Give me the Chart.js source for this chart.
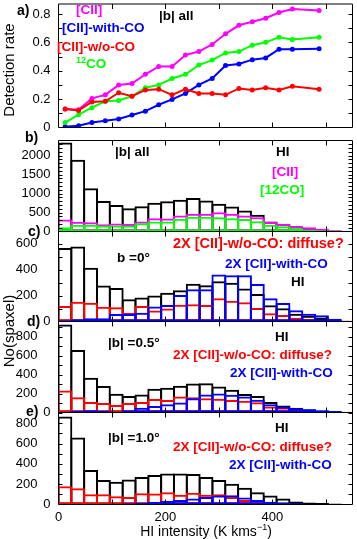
<!DOCTYPE html>
<html>
<head>
<meta charset="utf-8">
<title>Detection rate and HI histograms</title>
<script src="https://cdn.jsdelivr.net/npm/chart.js@4.4.1/dist/chart.umd.min.js"></script>
<style>
  html, body { margin: 0; padding: 0; background: #fff; }
  #fig { position: relative; width: 357px; height: 539px; overflow: hidden; font-family: "Liberation Sans", Arial, Helvetica, sans-serif; color: #000; }
  #fig canvas { position: absolute; left: 0; top: 0; }
  .lbl { position: absolute; white-space: nowrap; font-size: 13.5px; font-weight: bold; line-height: 14px; transform: translateY(-50%); }
  .pl { font-size: 14px; }
  .big { font-size: 14.5px; }
  .ytitle { position: absolute; white-space: nowrap; font-size: 15px; line-height: 15px; transform: translate(-50%, -50%) rotate(-90deg); }
  .xtitle { position: absolute; white-space: nowrap; font-size: 14px; line-height: 14px; transform: translate(-50%, -50%); }
  sup { font-size: 9px; line-height: 0; }
  .mag { color: #ff00ff; } .blu { color: #0000ff; } .red { color: #ff0000; } .grn { color: #00ff00; }
</style>
</head>
<body>
<div id="fig">
  <canvas id="pa" width="357" height="539"></canvas>
  <canvas id="pb" width="357" height="539"></canvas>
  <canvas id="pc" width="357" height="539"></canvas>
  <canvas id="pd" width="357" height="539"></canvas>
  <canvas id="pe" width="357" height="539"></canvas>

  <!-- a) -->
  <div class="lbl pl" style="left:17px;top:10px">a)</div>
  <div class="lbl mag" style="left:76px;top:10px">[CII]</div>
  <div class="lbl" style="left:159px;top:16px">|b| all</div>
  <div class="lbl blu" style="left:62px;top:28px">[CII]-with-CO</div>
  <div class="lbl red" style="left:57px;top:47px">[CII]-w/o-CO</div>
  <div class="lbl grn" style="left:76px;top:64px"><sup>12</sup>CO</div>

  <!-- b) -->
  <div class="lbl pl" style="left:25px;top:137px">b)</div>
  <div class="lbl" style="left:115px;top:152px">|b| all</div>
  <div class="lbl" style="left:276px;top:152px">HI</div>
  <div class="lbl mag" style="left:272px;top:172px">[CII]</div>
  <div class="lbl grn" style="left:260px;top:190px">[12CO]</div>

  <!-- c) -->
  <div class="lbl pl" style="left:28px;top:231px">c)</div>
  <div class="lbl red big" style="left:173px;top:243px">2X [CII]-w/o-CO: diffuse?</div>
  <div class="lbl" style="left:117px;top:258px">b =0°</div>
  <div class="lbl blu" style="left:225px;top:264px">2X [CII]-with-CO</div>
  <div class="lbl" style="left:291px;top:282px">HI</div>

  <!-- d) -->
  <div class="lbl pl" style="left:27px;top:321px">d)</div>
  <div class="lbl" style="left:275px;top:337px">HI</div>
  <div class="lbl" style="left:108px;top:343px">|b| =0.5°</div>
  <div class="lbl red" style="left:173px;top:355px">2X [CII]-w/o-CO: diffuse?</div>
  <div class="lbl blu" style="left:230px;top:373px">2X [CII]-with-CO</div>

  <!-- e) -->
  <div class="lbl pl" style="left:26px;top:411px">e)</div>
  <div class="lbl" style="left:275px;top:428px">HI</div>
  <div class="lbl" style="left:108px;top:438px">|b| =1.0°</div>
  <div class="lbl red" style="left:173px;top:447px">2X [CII]-w/o-CO: diffuse?</div>
  <div class="lbl blu" style="left:229px;top:465px">2X [CII]-with-CO</div>

  <div class="ytitle" style="left:8px;top:70px">Detection rate</div>
  <div class="ytitle" style="left:8px;top:331px">No(spaxel)</div>
  <div class="xtitle" style="left:206px;top:531px">HI intensity (K kms<sup>−1</sup>)</div>
</div>

<script>
// panel a) - detection rate per HI intensity bin
const rateX = [12.5, 37.5, 62.5, 87.5, 112.5, 137.5, 162.5, 187.5, 212.5, 237.5, 262.5, 287.5, 312.5, 337.5, 362.5, 387.5, 412.5, 437.5, 487.5];
const rateCII = [0.13, 0.125, 0.205, 0.23, 0.30, 0.31, 0.375, 0.43, 0.43, 0.51, 0.535, 0.585, 0.66, 0.72, 0.745, 0.77, 0.81, 0.835, 0.825];
const rateWithCO = [0.005, 0.012, 0.035, 0.048, 0.06, 0.088, 0.115, 0.16, 0.198, 0.24, 0.30, 0.345, 0.437, 0.448, 0.478, 0.49, 0.552, 0.552, 0.555];
const rateWoCO = [0.13, 0.12, 0.18, 0.185, 0.245, 0.22, 0.265, 0.27, 0.23, 0.27, 0.24, 0.24, 0.23, 0.275, 0.265, 0.28, 0.265, 0.29, 0.27];
const rateCO = [0.035, 0.09, 0.14, 0.185, 0.19, 0.22, 0.28, 0.30, 0.345, 0.375, 0.44, 0.475, 0.525, 0.535, 0.58, 0.60, 0.635, 0.62, 0.635];

// histogram bin centres (K km/s), 24 wide
const hiBins = [12, 36, 60, 84, 108, 132, 156, 180, 204, 228, 252, 276, 300, 324, 348, 372, 396, 420, 444, 468, 492, 516, 540];

// panel b) |b| all
const bHI = [2350, 1895, 1140, 805, 700, 615, 665, 755, 800, 840, 885, 815, 730, 660, 555, 440, 265, 200, 140, 90, 55, 25, 15];
const bCII = [315, 255, 245, 190, 210, 200, 265, 350, 340, 420, 465, 465, 510, 465, 420, 375, 250, 200, 140, 110, 70, 35, 18];
const bCO = [115, 180, 175, 160, 160, 160, 215, 265, 265, 335, 390, 390, 375, 350, 330, 270, 175, 140, 85, 55, 35, 18, 9];

// panel c) b = 0
const cHI = [567, 580, 415, 278, 258, 172, 186, 200, 222, 242, 292, 280, 310, 300, 255, 212, 125, 103, 60, 45, 30, 12, 6];
const cWoCO = [120, 153, 144, 114, 110, 65, 119, 84, 100, 130, 133, 128, 179, 161, 148, 105, 64, 50, 28, 22, 12, 6, 3];
const cWithCO = [10, 18, 25, 25, 58, 58, 68, 115, 128, 205, 250, 250, 363, 357, 357, 290, 180, 142, 87, 60, 48, 22, 6];

// panel d) |b| = 0.5
const dHI = [930, 662, 367, 279, 198, 175, 190, 250, 262, 284, 307, 308, 274, 240, 195, 175, 110, 74, 50, 35, 21, 12, 5];
const dWoCO = [232, 160, 110, 100, 79, 100, 110, 144, 132, 170, 160, 150, 145, 133, 123, 108, 63, 52, 35, 25, 15, 8, 4];
const dWithCO = [8, 15, 25, 18, 8, 25, 50, 70, 88, 105, 150, 190, 200, 188, 168, 135, 88, 63, 46, 35, 25, 15, 8];

// panel e) |b| = 1.0
const eHI = [865, 658, 340, 240, 225, 245, 270, 290, 305, 305, 300, 270, 240, 205, 165, 120, 88, 60, 30, 20, 15, 10, 5];
const eWoCO = [180, 160, 100, 100, 80, 75, 110, 108, 120, 95, 115, 95, 100, 75, 45, 35, 25, 15, 8, 5, 3, 2, 1];
const eWithCO = [2, 3, 5, 6, 8, 12, 15, 25, 35, 45, 60, 75, 88, 92, 70, 45, 28, 18, 12, 8, 5, 3, 2];

// tick labels
const xTicks = [0, 200, 400];
const yTicksA = [0, 0.2, 0.4, 0.6, 0.8];
const yTicksB = [0, 500, 1000, 1500, 2000];
const yTicksC = [0, 200, 400, 600];
const yTicksDE = [0, 200, 400, 600, 800];

const W = 357, H = 539;
const PLOT_LEFT = 58.5, PLOT_RIGHT = 352.5;
const X_MAX = 550;
const FONT = "'Liberation Sans', Arial, Helvetica, sans-serif";
const MAGENTA = '#ff00ff', BLUE = '#0000ff', RED = '#ff0000', GREEN = '#00ff00', BLACK = '#000000';

// bars slightly wider than a bin so neighbouring outlines share one edge
const binPx = 24 * (PLOT_RIGHT - PLOT_LEFT) / X_MAX;
const BAR_PCT = (binPx + 2) / binPx;

// box around the plot with inward ticks on all four sides (IDL style)
const frameTicks = {
    id: 'frameTicks',
    afterDraw(chart, args, opts) {
        const { ctx, chartArea: a } = chart;
        const x = chart.scales.x, y = chart.scales.y;
        ctx.save();
        ctx.strokeStyle = '#000';
        ctx.lineWidth = 1;
        ctx.beginPath();
        ctx.rect(a.left, a.top, a.right - a.left, a.bottom - a.top);
        for (let v = 100; v < x.max; v += 100) {
            const px = Math.round(x.getPixelForValue(v)) + 0.5;
            ctx.moveTo(px, a.bottom); ctx.lineTo(px, a.bottom - 5);
            ctx.moveTo(px, a.top); ctx.lineTo(px, a.top + 5);
        }
        for (let i = 1; i * opts.minor < y.max; i++) {
            const py = Math.round(y.getPixelForValue(i * opts.minor)) + 0.5;
            ctx.moveTo(a.left, py); ctx.lineTo(a.left + 4, py);
            ctx.moveTo(a.right, py); ctx.lineTo(a.right - 4, py);
        }
        ctx.stroke();
        ctx.restore();
    }
};

function lineSet(values, color) {
    return {
        data: rateX.map((x, i) => ({ x: x, y: values[i] })),
        borderColor: color,
        backgroundColor: color,
        borderWidth: 2,
        pointRadius: 2.5,
        pointBorderWidth: 0,
        pointBackgroundColor: color,
        tension: 0
    };
}

function barSet(values, color) {
    return {
        data: hiBins.map((x, i) => ({ x: x, y: values[i] })),
        backgroundColor: 'rgba(0,0,0,0)',
        borderColor: color,
        borderWidth: 2,
        borderSkipped: false,
        barPercentage: BAR_PCT,
        categoryPercentage: 1
    };
}

const spaced = (v) => v === 0 ? '0' : v + '\u2002\u2002';
const plain = (v) => String(v);
const toTicks = (list) => list.map((v) => ({ value: v }));

function makePanel(id, type, p, datasets) {
    return new Chart(document.getElementById(id), {
        type: type,
        data: { datasets: datasets },
        options: {
            responsive: false,
            animation: false,
            events: [],
            layout: { padding: { top: p.top, bottom: p.showX ? 0 : H - p.bottom, left: 0, right: W - PLOT_RIGHT } },
            plugins: {
                legend: { display: false },
                tooltip: { enabled: false },
                frameTicks: { minor: p.minor }
            },
            scales: {
                x: {
                    type: 'linear', min: 0, max: X_MAX, offset: false, stacked: type === 'bar',
                    grid: { display: false, drawTicks: false }, border: { display: false },
                    ticks: { display: p.showX, padding: 5, maxRotation: 0, autoSkip: false,
                             color: '#000', font: { size: 13, family: FONT } },
                    afterBuildTicks(s) { s.ticks = toTicks(xTicks); },
                    afterFit(s) { s.height = p.showX ? H - p.bottom : 0; s.paddingLeft = 0; s.paddingRight = 0; }
                },
                y: {
                    type: 'linear', min: 0, max: p.max, stacked: false,
                    grid: { display: false, drawTicks: false }, border: { display: false },
                    ticks: { autoSkip: false, padding: 8, color: '#000',
                             font: { size: 13, family: FONT }, callback: p.fmt },
                    afterBuildTicks(s) { s.ticks = toTicks(p.ticks); },
                    afterFit(s) { s.width = PLOT_LEFT; s.paddingTop = 0; s.paddingBottom = 0; }
                }
            }
        },
        plugins: [frameTicks]
    });
}

// first dataset listed is drawn on top
makePanel('pa', 'line',
    { top: 2.5, bottom: 127.5, max: 0.87, ticks: yTicksA, minor: 0.1, showX: false,
      fmt: (v) => v === 0 ? '0' : v.toFixed(1) },
    [lineSet(rateWoCO, RED), lineSet(rateCO, GREEN), lineSet(rateWithCO, BLUE), lineSet(rateCII, MAGENTA)]);

makePanel('pb', 'bar',
    { top: 140.5, bottom: 231.5, max: 2400, ticks: yTicksB, minor: 100, showX: false, fmt: plain },
    [barSet(bCO, GREEN), barSet(bCII, MAGENTA), barSet(bHI, BLACK)]);

makePanel('pc', 'bar',
    { top: 231.5, bottom: 321.5, max: 695, ticks: yTicksC, minor: 100, showX: false, fmt: spaced },
    [barSet(cWithCO, BLUE), barSet(cWoCO, RED), barSet(cHI, BLACK)]);

makePanel('pd', 'bar',
    { top: 321.5, bottom: 412.5, max: 962, ticks: yTicksDE, minor: 100, showX: false, fmt: spaced },
    [barSet(dWithCO, BLUE), barSet(dWoCO, RED), barSet(dHI, BLACK)]);

makePanel('pe', 'bar',
    { top: 412.5, bottom: 504.5, max: 905, ticks: yTicksDE, minor: 100, showX: true, fmt: spaced },
    [barSet(eWithCO, BLUE), barSet(eWoCO, RED), barSet(eHI, BLACK)]);
</script>
</body>
</html>
